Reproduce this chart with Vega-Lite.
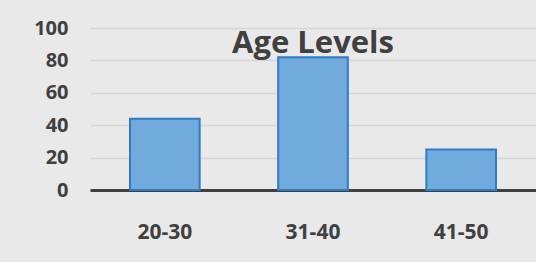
{
  "$schema": "https://vega.github.io/schema/vega-lite/v6.json",
  "autosize": "none",
  "width": 446,
  "height": 162,
  "padding": {"left": 90, "top": 28, "right": 0, "bottom": 72},
  "background": "#e9e9e9",
  "title": {
    "text": "Age Levels",
    "font": "Open Sans",
    "fontSize": 31,
    "fontWeight": "bold",
    "color": "#404040",
    "anchor": "middle",
    "offset": -42
  },
  "data": {
    "values": [
      {"age": "20-30", "value": 44},
      {"age": "31-40", "value": 82},
      {"age": "41-50", "value": 25}
    ]
  },
  "mark": {
    "type": "bar",
    "fill": "#6aa6dc",
    "stroke": "#2f7bc4",
    "strokeWidth": 2,
    "fillOpacity": 0.95
  },
  "encoding": {
    "x": {
      "field": "age",
      "type": "nominal",
      "sort": null,
      "scale": {"paddingInner": 0.53, "paddingOuter": 0.27},
      "axis": {
        "title": null,
        "labelAngle": 0,
        "labelFont": "Open Sans",
        "labelFontSize": 21,
        "labelFontWeight": "bold",
        "labelColor": "#404040",
        "labelPadding": 31,
        "ticks": false,
        "domainColor": "#404040",
        "domainWidth": 3
      }
    },
    "y": {
      "field": "value",
      "type": "quantitative",
      "scale": {"domain": [0, 100]},
      "axis": {
        "title": null,
        "values": [0, 20, 40, 60, 80, 100],
        "labelFont": "Open Sans",
        "labelFontSize": 20,
        "labelFontWeight": "bold",
        "labelColor": "#404040",
        "labelPadding": 22,
        "ticks": false,
        "domain": false,
        "gridColor": "#d6d6d6",
        "gridWidth": 1.5
      }
    }
  },
  "config": {"view": {"stroke": null}}
}
